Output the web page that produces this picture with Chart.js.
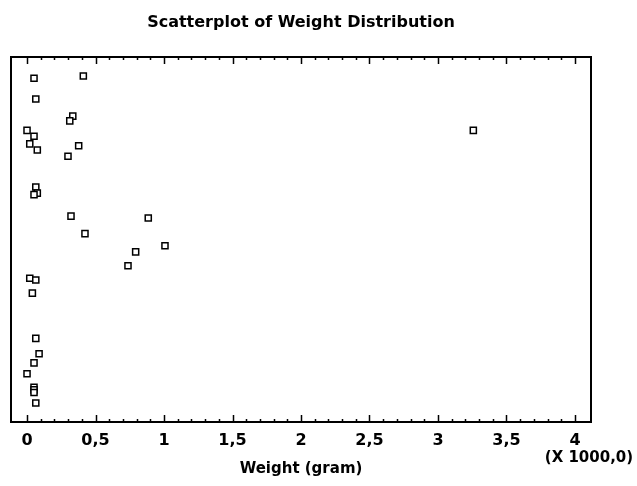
<!DOCTYPE html>
<html lang="en">
<head>
    <meta charset="UTF-8">
    <title>Scatterplot of Weight Distribution</title>
    <style>
        body { margin: 0; background: #fff; }
        .wrap { width: 637px; height: 486px; }
    </style>
    <script src="https://cdn.jsdelivr.net/npm/chart.js"></script>
</head>
<body>
<div class="wrap">
    <canvas id="scatter" width="637" height="486"></canvas>
</div>
<script>
    // weight in thousands of grams, and a jitter position (0-100) for the vertical spread
    var weights = [0.051, 0.411, 0.064, 0.334, 0.312, 0.000, 0.051, 0.020, 0.075, 0.377,
                   0.299, 0.064, 0.075, 0.051, 0.321, 0.885, 0.423, 3.258, 1.007, 0.793,
                   0.737, 0.020, 0.064, 0.039, 0.064, 0.088, 0.051, 0.000, 0.051, 0.051,
                   0.051, 0.064];
    var jitter = [94.2, 94.8, 88.5, 83.8, 82.5, 79.9, 78.3, 76.2, 74.5, 75.7,
                  72.8, 64.4, 62.7, 62.3, 56.4, 55.9, 51.6, 79.9, 48.3, 46.6,
                  42.8, 39.4, 38.9, 35.3, 22.9, 18.7, 16.2, 13.2, 9.5, 8.8,
                  8.1, 5.2];
    var xTicks = [0, 0.5, 1, 1.5, 2, 2.5, 3, 3.5, 4];

    var points = weights.map(function (w, i) { return { x: w, y: jitter[i] }; });

    var family = '"DejaVu Sans", "Liberation Sans", Arial, sans-serif';

    // frame, inward tick marks and the x1000 multiplier
    var framePlugin = {
        id: 'framePlugin',
        afterDraw: function (chart) {
            var ctx = chart.ctx;
            var a = chart.chartArea;
            var xs = chart.scales.x;
            ctx.save();
            ctx.strokeStyle = '#000';
            ctx.lineWidth = 2;
            ctx.strokeRect(a.left, a.top, a.right - a.left, a.bottom - a.top);
            ctx.lineWidth = 1.5;
            ctx.beginPath();
            for (var i = 0; i <= 40; i++) {
                var px = Math.round(xs.getPixelForValue(i / 10)) + 0.5;
                var len = (i % 5 === 0) ? 7 : 3;
                ctx.moveTo(px, a.bottom);
                ctx.lineTo(px, a.bottom - len);
                ctx.moveTo(px, a.top);
                ctx.lineTo(px, a.top + len);
            }
            ctx.stroke();
            ctx.fillStyle = '#000';
            ctx.font = 'bold 15px ' + family;
            ctx.textAlign = 'center';
            ctx.textBaseline = 'middle';
            ctx.fillText('(X 1000,0)', xs.getPixelForValue(4) + 14, a.bottom + 36);
            ctx.restore();
        }
    };

    new Chart(document.getElementById('scatter').getContext('2d'), {
        type: 'scatter',
        data: {
            datasets: [{
                data: points,
                pointStyle: 'rect',
                pointRadius: 4.3,
                pointBorderWidth: 1.5,
                borderColor: '#000',
                backgroundColor: '#fff'
            }]
        },
        options: {
            responsive: false,
            animation: false,
            events: [],
            layout: { padding: { left: 11, right: 46, top: 0, bottom: 0 } },
            plugins: {
                legend: { display: false },
                tooltip: { enabled: false },
                title: {
                    display: true,
                    text: 'Scatterplot of Weight Distribution',
                    color: '#000',
                    font: { family: family, size: 16, weight: 'bold' },
                    padding: { top: 13, bottom: 24.8 }
                }
            },
            scales: {
                x: {
                    type: 'linear',
                    min: -0.117,
                    max: 4.117,
                    grid: { display: false, drawTicks: false, tickLength: 0 },
                    border: { display: false },
                    afterBuildTicks: function (scale) {
                        scale.ticks = xTicks.map(function (v) { return { value: v }; });
                    },
                    afterFit: function (scale) { scale.height = 64; },
                    ticks: {
                        color: '#000',
                        padding: 9,
                        maxRotation: 0,
                        font: { family: family, size: 16, weight: 'bold' },
                        callback: function (v) { return String(v).replace('.', ','); }
                    },
                    title: {
                        display: true,
                        text: 'Weight (gram)',
                        color: '#000',
                        font: { family: family, size: 15, weight: 'bold' },
                        padding: { top: 0, bottom: 8 }
                    }
                },
                y: {
                    display: false,
                    min: 0,
                    max: 100
                }
            }
        },
        plugins: [framePlugin]
    });
</script>
</body>
</html>
